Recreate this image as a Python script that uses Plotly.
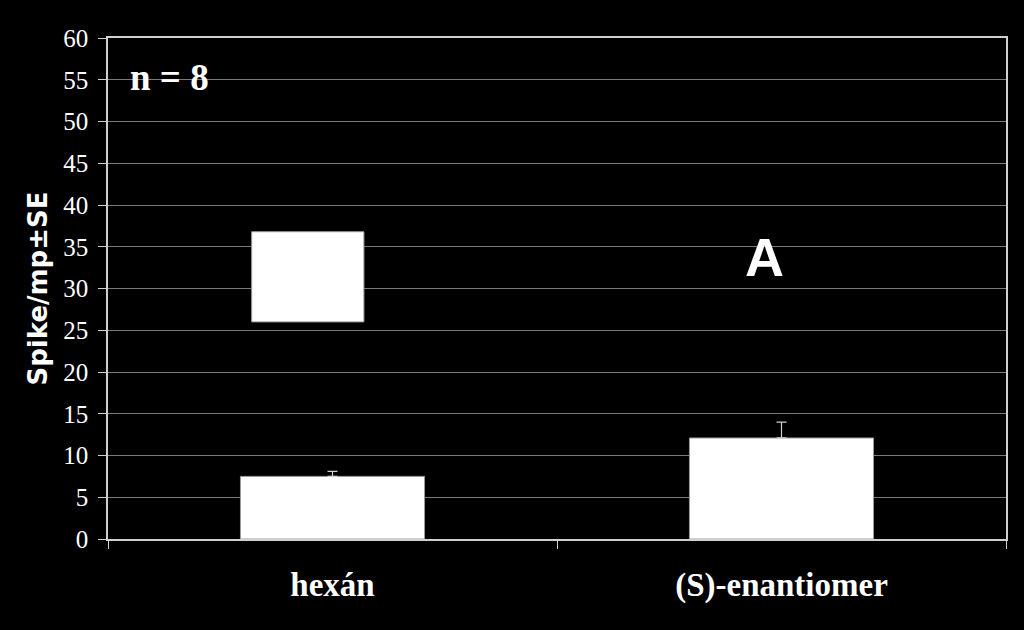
import plotly.graph_objects as go

categories = ["hexán", "(S)-enantiomer"]
spikes = [7.5, 12.1]
se_plus = [0.6, 1.9]
y_ticks = list(range(0, 61, 5))

fig = go.Figure()

fig.add_trace(go.Bar(
    x=categories, y=spikes, width=0.41,
    marker=dict(color="white", line=dict(color="#9a9a9a", width=1)),
    error_y=dict(type="data", symmetric=False, array=se_plus,
                 arrayminus=[0, 0], color="#d0d0d0", thickness=1.2, width=5),
    showlegend=False,
))

# white box over the hexán bar (masked label)
fig.add_shape(type="rect", xref="x", yref="y",
              x0=-0.18, x1=0.07, y0=26, y1=36.8,
              fillcolor="white", line=dict(color="#9a9a9a", width=1))

fig.add_annotation(x=0.022, y=55.3, xref="paper", yref="y", text="<b>n = 8</b>",
                   showarrow=False, xanchor="left", yanchor="middle",
                   font=dict(family="Liberation Serif", size=37, color="white"))
fig.add_annotation(x=1, y=33.8, xref="x", yref="y", text="<b>A</b>",
                   showarrow=False, xshift=-17,
                   font=dict(family="Liberation Sans", size=54, color="white"))

fig.update_layout(
    width=1024, height=630,
    paper_bgcolor="black", plot_bgcolor="black",
    margin=dict(l=108, r=18, t=38, b=91),
)
fig.update_xaxes(
    showline=True, linecolor="#d0d0d0", linewidth=1.5, mirror=True,
    ticks="outside", tickson="boundaries", ticklen=8, tickcolor="#d0d0d0",
    tickfont=dict(family="Liberation Serif", size=33, color="white", weight="bold"),
    showgrid=False, ticklabelstandoff=16,
)
fig.update_yaxes(
    range=[0, 60], tickvals=y_ticks,
    showline=True, linecolor="#d0d0d0", linewidth=1.5, mirror=True,
    ticks="outside", ticklen=8, tickcolor="#d0d0d0",
    gridcolor="#7a7a7a", gridwidth=1,
    tickfont=dict(family="Liberation Serif", size=25, color="white"),
    ticklabelstandoff=5,
    title=dict(text="<b>Spike/mp±SE</b>", standoff=8,
               font=dict(family="DejaVu Sans", size=26, color="white")),
    zeroline=False,
)

fig.write_html("out.html", config={"displayModeBar": False},
               post_script="document.body.style.margin='0';document.body.style.background='black';")
